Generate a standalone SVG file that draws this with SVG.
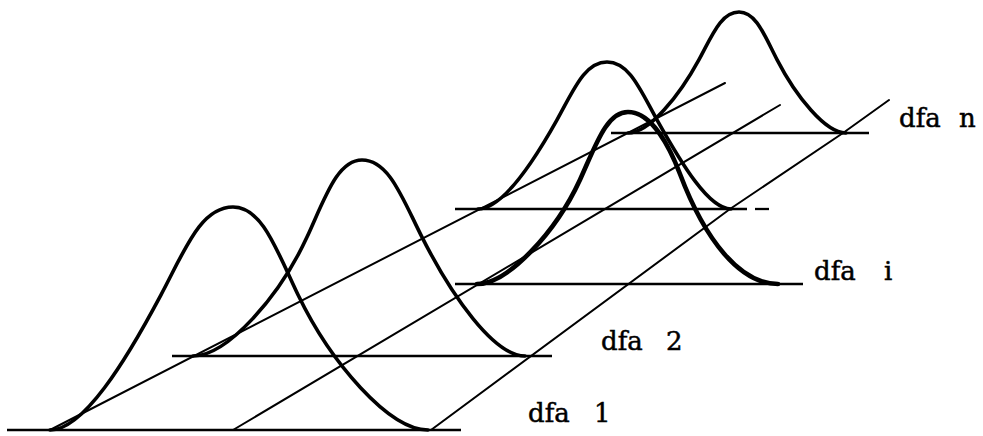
<svg xmlns="http://www.w3.org/2000/svg" width="983" height="436" viewBox="0 0 983 436">
  <style>
    .base { stroke: #000; stroke-width: 2.3; fill: none; stroke-linecap: butt; }
    .diag { stroke: #000; stroke-width: 2; fill: none; stroke-linecap: round; }
    .bell { stroke: #000; stroke-width: 3.6; fill: none; stroke-linecap: round; stroke-linejoin: round; }
    .bell-front { stroke-width: 4.6; }
    .lbl { font-family: "DejaVu Serif", "Liberation Serif", serif; font-size: 26px; fill: #000; stroke: #000; stroke-width: 0.5; }
  </style>
  <rect x="0" y="0" width="983" height="436" fill="#fff"/>

  <g id="connectors">
    <line class="diag" x1="50" y1="430" x2="725" y2="83"/>
    <line class="diag" x1="233" y1="430" x2="780" y2="105"/>
    <polyline class="diag" points="431,430 730,209 843,133 889,100"/>
  </g>

  <g id="day-1">
    <line class="base" x1="7" y1="430" x2="461" y2="430"/>
    <path class="bell" d="M50,430 C83.3,430 125,362.4 161,294.8 C184.8,250.1 200.6,207 233,207 C262.3,207 276.6,250.1 298,294.8 C330.5,362.4 389,430 428,430"/>
    <text class="lbl" x="528" y="422">dfa <tspan x="594">1</tspan></text>
  </g>

  <g id="day-2">
    <line class="base" x1="172" y1="356" x2="552" y2="356"/>
    <path class="bell" d="M193,356 C227.2,356 279.5,296.6 307,237.1 C325.1,197.9 337.3,160 362,160 C389,160 402.2,197.9 422,237.1 C452,296.6 494.1,356 525,356"/>
    <text class="lbl" x="601" y="350">dfa <tspan x="666">2</tspan></text>
  </g>

  <g id="day-n-1">
    <line class="base" x1="455" y1="209" x2="747" y2="209"/>
    <line class="base" x1="755" y1="209" x2="769" y2="209"/>
    <path class="bell" d="M478,209 C501.7,209 532,164.5 557,119.8 C573.5,90.4 584.5,62 607,62 C629.5,62 640.5,90.4 657,119.8 C682,164.5 708.8,209 731,209"/>
  </g>

  <g id="day-i">
    <line class="base" x1="455" y1="284" x2="803" y2="284"/>
    <path class="bell bell-front" d="M477,284 C507.9,284 556,231.9 580,179.7 C595.8,145.2 606.4,112 628,112 C652,112 670,148 680,174 C705,240 740,284 778,284"/>
    <text class="lbl" x="814" y="280">dfa <tspan x="884">i</tspan></text>
  </g>

  <g id="day-n">
    <line class="base" x1="611" y1="133" x2="869" y2="133"/>
    <path class="bell" d="M628,133 C649.3,133 679,96.3 699,59.6 C712.2,35.4 721,12 739,12 C756.1,12 764.5,35.4 777,59.6 C796,96.3 825.3,133 846,133"/>
    <text class="lbl" x="899" y="127">dfa <tspan x="959">n</tspan></text>
  </g>
</svg>
